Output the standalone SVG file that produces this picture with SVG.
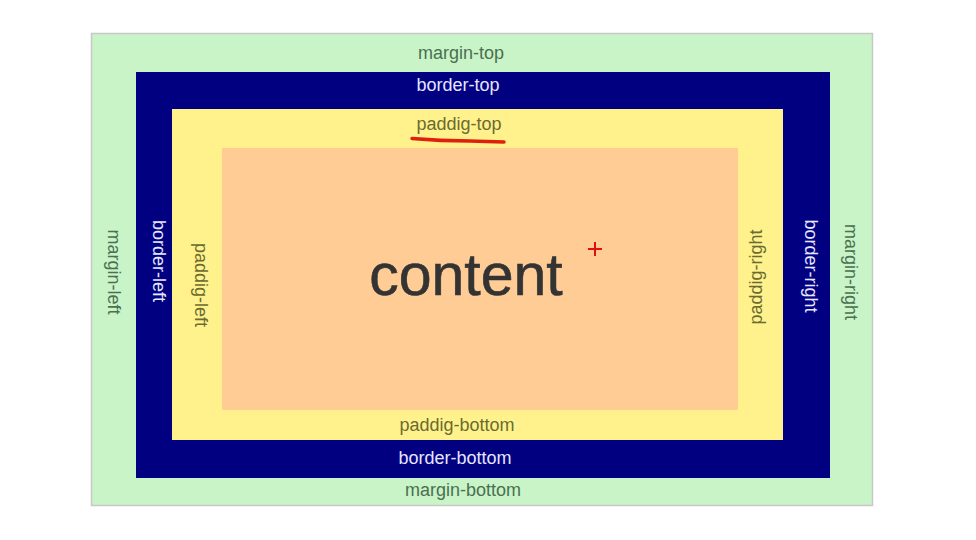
<svg xmlns="http://www.w3.org/2000/svg" width="976" height="540" viewBox="0 0 976 540">
<style>
text{font-family:"Liberation Sans",Arial,sans-serif;font-size:18px;text-anchor:middle}
.m{fill:#4a7050}
.b{fill:#e6e6ff}
.p{fill:#6b6b30}
.c{fill:#333;font-size:59px;stroke:#333;stroke-width:0.6}
</style>
<rect width="976" height="540" fill="#fff"/>
<g id="margin">
<rect x="91.5" y="33.5" width="781" height="472" fill="#c8f4c8" stroke="#c8c8c8" stroke-width="1.5"/>
<text class="m" x="461" y="59">margin-top</text>
<text class="m" x="463" y="496">margin-bottom</text>
<text class="m" transform="translate(108,272) rotate(90)">margin-left</text>
<text class="m" transform="translate(845,272) rotate(90)">margin-right</text>
</g>
<g id="border">
<rect x="136" y="72" width="694" height="406" fill="#000080"/>
<text class="b" x="458" y="91">border-top</text>
<text class="b" x="455" y="464">border-bottom</text>
<text class="b" transform="translate(153,261) rotate(90)">border-left</text>
<text class="b" transform="translate(805,266) rotate(90)">border-right</text>
</g>
<g id="padding">
<rect x="172" y="109" width="611" height="331" fill="#fff28c"/>
<text class="p" x="459" y="130">paddig-top</text>
<text class="p" x="457" y="431">paddig-bottom</text>
<text class="p" transform="translate(195,285) rotate(90)">paddig-left</text>
<text class="p" transform="translate(762,277) rotate(-90)">paddig-right</text>
</g>
<g id="content">
<rect x="222" y="148" width="516" height="262" fill="#ffcc96"/>
<text class="c" x="466" y="295">content</text>
</g>
<g id="connectors">
<path d="M412 138.5 Q440 141 470 141 L504 142" fill="none" stroke="#e0200f" stroke-width="3.5" stroke-linecap="round"/>
<path d="M588 249 H602 M595 242 V256" stroke="#e01010" stroke-width="2"/>
</g>
</svg>
